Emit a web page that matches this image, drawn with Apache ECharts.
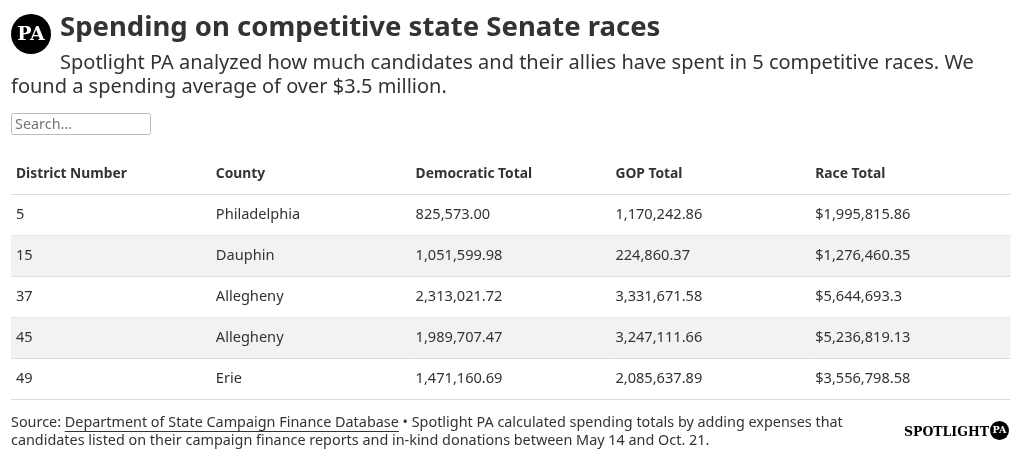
<!DOCTYPE html>
<html>
<head>
<meta charset="utf-8">
<script src="https://cdn.jsdelivr.net/npm/echarts@6/dist/echarts.min.js"></script>
<style>
html,body{margin:0;padding:0;background:#fff;}
#chart{width:1020px;height:462px;}
</style>
</head>
<body>
<div id="chart"></div>
<script>
// ---- data ----
const headers = ['District Number', 'County', 'Democratic Total', 'GOP Total', 'Race Total'];
const districts = [5, 15, 37, 45, 49];
const counties = ['Philadelphia', 'Dauphin', 'Allegheny', 'Allegheny', 'Erie'];
const demTotals = [825573.00, 1051599.98, 2313021.72, 1989707.47, 1471160.69];
const gopTotals = [1170242.86, 224860.37, 3331671.58, 3247111.66, 2085637.89];
const raceTotals = [1995815.86, 1276460.35, 5644693.3, 5236819.13, 3556798.58];

const titleText = 'Spending on competitive state Senate races';
const subLine1 = 'Spotlight PA analyzed how much candidates and their allies have spent in 5 competitive races. We';
const subLine2 = 'found a spending average of over $3.5 million.';
const srcLabel = 'Source: ';
const srcLink = 'Department of State Campaign Finance Database';
const srcRest = ' \u2022 Spotlight PA calculated spending totals by adding expenses that';
const noteLine2 = 'candidates listed on their campaign finance reports and in-kind donations between May 14 and Oct. 21.';

const FONT = '"Noto Sans", "Open Sans", sans-serif';
const fmt2 = v => v.toLocaleString('en-US', {minimumFractionDigits: 2, maximumFractionDigits: 2});
const fmtRace = v => '$' + v.toLocaleString('en-US', {minimumFractionDigits: 0, maximumFractionDigits: 2});

function cellText(c, r) {
  if (r === 0) return headers[c];
  const i = r - 1;
  switch (c) {
    case 0: return String(districts[i]);
    case 1: return counties[i];
    case 2: return fmt2(demTotals[i]);
    case 3: return fmt2(gopTotals[i]);
    default: return fmtRace(raceTotals[i]);
  }
}

const rowCats = ['header'].concat(districts.map(String));
const cells = [];
for (let r = 0; r < rowCats.length; r++) for (let c = 0; c < headers.length; c++) cells.push([c, r]);

function measure(text, font) {
  const cv = document.createElement('canvas').getContext('2d');
  cv.font = font;
  return cv.measureText(text).width;
}
const footFont = '14.4px ' + FONT;
const labelW = measure(srcLabel, footFont);
const linkW = measure(srcLink, footFont);

const chart = echarts.init(document.getElementById('chart'), null, {renderer: 'canvas'});
chart.setOption({
  animation: false,
  backgroundColor: '#ffffff',
  grid: {left: 11, right: 10, top: 153, height: 246, containLabel: false},
  xAxis: {type: 'category', data: headers, show: false, boundaryGap: true},
  yAxis: {type: 'category', data: rowCats, inverse: true, show: false, boundaryGap: true},
  series: [{
    type: 'custom',
    data: cells,
    silent: true,
    renderItem: function (params, api) {
      const c = api.value(0), r = api.value(1);
      const pt = api.coord([c, r]);
      const sz = api.size([1, 1]);
      const left = pt[0] - sz[0] / 2, top = pt[1] - sz[1] / 2;
      const children = [];
      if (r === 2 || r === 4) {
        children.push({type: 'rect', shape: {x: left, y: top + 0.5, width: sz[0] + 0.5, height: sz[1]}, style: {fill: '#f2f2f2'}});
      }
      const ly = Math.round(top + sz[1]) + 0.5;
      children.push({type: 'line', shape: {x1: left, y1: ly, x2: left + sz[0] + 0.5, y2: ly}, style: {stroke: '#dddddd', lineWidth: 1}});
      children.push({type: 'text', x: left + 5, y: pt[1] + 0.5, style: {
        text: cellText(c, r), fill: '#333333',
        font: (r === 0 ? 'bold 13.8px ' : '14.6px ') + FONT,
        verticalAlign: 'middle', align: 'left'
      }});
      return {type: 'group', children: children};
    }
  }],
  graphic: [
    {type: 'circle', shape: {cx: 31, cy: 34, r: 20}, style: {fill: '#000'}},
    {type: 'text', x: 31, y: 35, style: {text: 'PA', fill: '#fff', font: 'bold 19px "DejaVu Serif", serif', align: 'center', verticalAlign: 'middle'}},
    {type: 'text', x: 60, y: 28, style: {text: titleText, fill: '#333', font: 'bold 27.5px ' + FONT, verticalAlign: 'middle'}},
    {type: 'text', x: 60, y: 63.5, style: {text: subLine1, fill: '#333', font: '20px ' + FONT, verticalAlign: 'middle'}},
    {type: 'text', x: 11, y: 87.5, style: {text: subLine2, fill: '#333', font: '20px ' + FONT, verticalAlign: 'middle'}},
    {type: 'rect', shape: {x: 11.5, y: 113.5, width: 139, height: 21, r: 2}, style: {fill: '#fff', stroke: '#bbbbbb', lineWidth: 1}},
    {type: 'text', x: 15, y: 124.5, style: {text: 'Search...', fill: '#757575', font: '14.4px ' + FONT, verticalAlign: 'middle'}},
    {type: 'text', x: 11, y: 423, style: {text: srcLabel, fill: '#333', font: footFont, verticalAlign: 'middle'}},
    {type: 'text', x: 11 + labelW, y: 423, style: {text: srcLink, fill: '#333', font: footFont, verticalAlign: 'middle'}},
    {type: 'line', shape: {x1: 11 + labelW, y1: 431.5, x2: 11 + labelW + linkW, y2: 431.5}, style: {stroke: '#333', lineWidth: 1}},
    {type: 'text', x: 11 + labelW + linkW, y: 423, style: {text: srcRest, fill: '#333', font: footFont, verticalAlign: 'middle'}},
    {type: 'text', x: 11, y: 441, style: {text: noteLine2, fill: '#333', font: footFont, verticalAlign: 'middle'}},
    {type: 'text', x: 989, y: 433, style: {text: 'SPOTLIGHT', fill: '#000', font: 'bold 12.5px "DejaVu Serif", serif', align: 'right', verticalAlign: 'middle'}},
    {type: 'circle', shape: {cx: 999.5, cy: 430.5, r: 9.5}, style: {fill: '#000'}},
    {type: 'text', x: 999.5, y: 431, style: {text: 'PA', fill: '#fff', font: 'bold 9.5px "DejaVu Serif", serif', align: 'center', verticalAlign: 'middle'}}
  ]
});
</script>
</body>
</html>
